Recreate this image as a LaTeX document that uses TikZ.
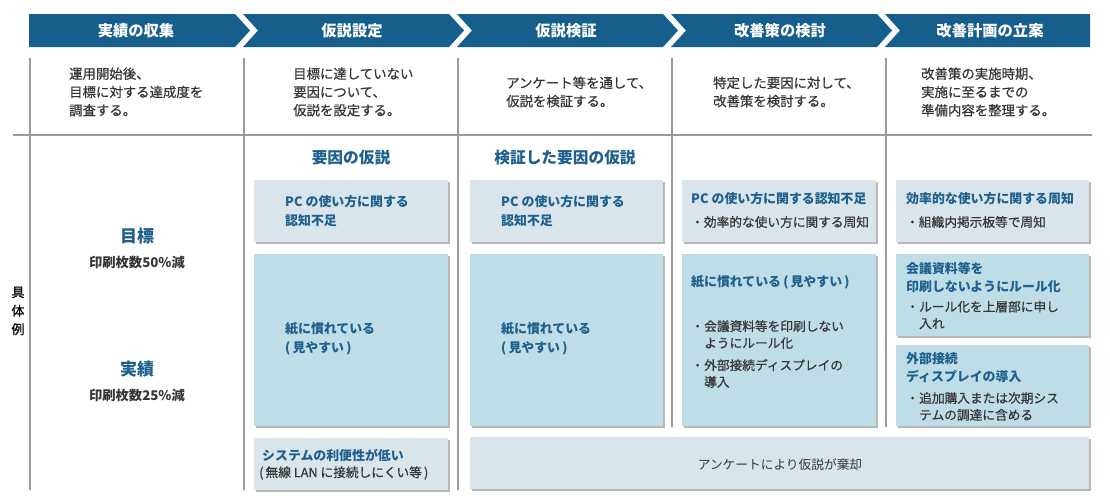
\documentclass[tikz,border=0pt]{standalone}
\usepackage{fontspec}
\setmainfont{Noto Sans CJK JP}
\newfontfamily\medfont{Noto Sans CJK JP}[FakeBold=0.6]
\usetikzlibrary{shadows}
\definecolor{band}{HTML}{165E8C}
\definecolor{boxA}{HTML}{D9E5EB}
\definecolor{boxB}{HTML}{BEDDE6}
\definecolor{tblue}{HTML}{1D5F8D}
\definecolor{tgrey}{HTML}{363636}
\definecolor{rulec}{HTML}{9A9A9A}
\newcommand{\bl}[2]{\makebox[13pt][l]{・}#1\\\hspace*{13pt}#2}
\tikzset{
 sepline/.style={draw=rulec, line width=1.2pt},
 hdr/.style={text=white, inner sep=0pt, font=\fontsize{15.3}{16}\selectfont\bfseries},
 desc/.style={text=tgrey, align=left, anchor=west, inner sep=0pt, font=\fontsize{13.4}{18.3}\selectfont\medfont},
 boxbase/.style={draw=none, inner sep=0pt, drop shadow={shadow xshift=1.6pt, shadow yshift=-1.6pt, fill=black!40, opacity=0.7}},
 boxa/.style={boxbase, fill=boxA},
 boxb/.style={boxbase, fill=boxB},
 btxt/.style={text=tblue, align=left, anchor=west, inner sep=0pt, font=\fontsize{12.9}{18.5}\selectfont\bfseries},
 gtxt/.style={text=tgrey, align=left, anchor=west, inner sep=0pt, font=\fontsize{12.7}{16.8}\selectfont\medfont},
 plain/.style={text=tgrey, inner sep=0pt, font=\fontsize{12.7}{16.8}\selectfont},
 head/.style={text=tblue, inner sep=0pt, font=\fontsize{15.7}{17}\selectfont\bfseries},
 big/.style={text=tblue, inner sep=0pt, font=\fontsize{17}{19}\selectfont\bfseries},
 sub/.style={text=tgrey, inner sep=0pt, font=\fontsize{13.3}{15}\selectfont\bfseries},
}
\begin{document}
\begin{tikzpicture}[x=1pt,y=-1pt]
\useasboundingbox (0,0) rectangle (1110,501);
% header chevrons
\fill[band] (29,14) -- (235,14) -- (250,30.5) -- (235,47) -- (29,47) -- cycle;
\foreach \i in {1,2,3}{
 \fill[band] ({243+214*(\i-1)},14) -- ({235+214*\i},14) -- ({250+214*\i},30.5) -- ({235+214*\i},47) -- ({243+214*(\i-1)},47) -- ({258+214*(\i-1)},30.5) -- cycle;
}
\fill[band] (885,14) -- (1090,14) -- (1090,47) -- (885,47) -- (900,30.5) -- cycle;
\node[hdr] (h1) at (136,31) {実績の収集};
\node[hdr] (h2) at (352,31) {仮説設定};
\node[hdr] (h3) at (566,31) {仮説検証};
\node[hdr] (h4) at (780,31) {改善策の検討};
\node[hdr] (h5) at (990,31) {改善計画の立案};
% grid lines
\draw[sepline] (13,135) -- (1092,135);
\draw[sepline] (30,58) -- (30,490);
\draw[sepline] (244,58) -- (244,490);
\draw[sepline] (458,58) -- (458,490);
\draw[sepline] (672,58) -- (672,427);
\draw[sepline] (886,58) -- (886,427);
% description row
\node[desc] (d1) at (69,92) {運用開始後、\\目標に対する達成度を\\調査する。};
\node[desc] (d2) at (293,92) {目標に達していない\\要因について、\\仮説を設定する。};
\node[desc] (d3) at (506,92) {アンケート等を通して、\\仮説を検証する。};
\node[desc] (d4) at (713,92) {特定した要因に対して、\\改善策を検討する。};
\node[desc] (d5) at (921,92) {改善策の実施時期、\\実施に至るまでの\\準備内容を整理する。};
% side label
\node[text=black, align=center, inner sep=0pt, font=\fontsize{13}{18.5}\selectfont\medfont] (gr) at (18,311) {具\\体\\例};
% column 1
\node[big] (mk) at (137,236) {目標};
\node[sub] (mkv) at (137,262) {印刷枚数50\%減};
\node[big] (js) at (137,369) {実績};
\node[sub] (jsv) at (137,395) {印刷枚数25\%減};
% headings
\node[head] (hd2) at (351,158) {要因の仮説};
\node[head] (hd3) at (565,158) {検証した要因の仮説};
% boxes
\node[boxa, minimum width=194pt, minimum height=62pt] (b21) at (351,211) {};
\node[boxb, minimum width=194pt, minimum height=172pt] (b22) at (351,340) {};
\node[boxa, minimum width=194pt, minimum height=52pt] (b23) at (351,464) {};
\node[boxa, minimum width=193pt, minimum height=62pt] (b31) at (566.5,211) {};
\node[boxb, minimum width=193pt, minimum height=172pt] (b32) at (566.5,340) {};
\node[boxa, minimum width=194pt, minimum height=62pt] (b41) at (779,211) {};
\node[boxb, minimum width=194pt, minimum height=172pt] (b42) at (779,340) {};
\node[boxa, minimum width=193pt, minimum height=62pt] (b51) at (992.5,211) {};
\node[boxb, minimum width=193pt, minimum height=82pt] (b52) at (992.5,295) {};
\node[boxb, minimum width=193pt, minimum height=81pt] (b53) at (992.5,385.5) {};
\node[boxa, minimum width=619pt, minimum height=52pt] (bot) at (779.5,463) {};
% box texts
\node[btxt] (t21) at (285,211) {PC の使い方に関する\\認知不足};
\node[btxt] (t22) at (285,339) {紙に慣れている\\(\,見やすい\,)};
\node[btxt] (t23a) at (262,455) {システムの利便性が低い};
\node[gtxt] (t23b) at (259,473) {(\,無線 LAN に接続しにくい等\,)};
\node[btxt] (t31) at (501,211) {PC の使い方に関する\\認知不足};
\node[btxt] (t32) at (501,339) {紙に慣れている\\(\,見やすい\,)};
\node[btxt] (t41a) at (691,199) {PC の使い方に関する認知不足};
\node[gtxt] (t41b) at (691,222) {・効率的な使い方に関する周知};
\node[btxt] (t42a) at (691,282) {紙に慣れている\,(\,見やすい\,)};
\node[gtxt] (t42b) at (691,334.5) {\bl{会議資料等を印刷しない}{ようにルール化}};
\node[gtxt] (t42c) at (691,373.5) {\bl{外部接続ディスプレイの}{導入}};
\node[btxt] (t51a) at (906,199) {効率的な使い方に関する周知};
\node[gtxt] (t51b) at (906,222) {・組織内掲示板等で周知};
\node[btxt] (t52a) at (906,277.5) {会議資料等を\\印刷しないようにルール化};
\node[gtxt] (t52b) at (906,315) {\bl{ルール化を上層部に申し}{入れ}};
\node[btxt] (t53a) at (906,367.5) {外部接続\\ディスプレイの導入};
\node[gtxt] (t53b) at (906,406.5) {\bl{追加購入または次期シス}{テムの調達に含める}};
\node[plain] (tbot) at (780,465) {アンケートにより仮説が棄却};
\end{tikzpicture}
\end{document}
